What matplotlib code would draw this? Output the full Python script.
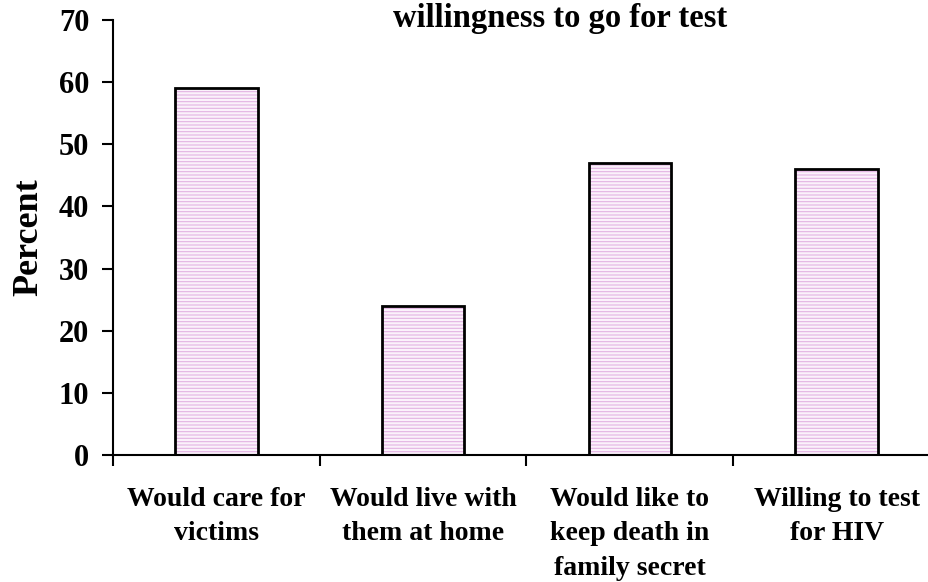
import matplotlib
matplotlib.use("Agg")
import matplotlib.pyplot as plt
import numpy as np

plt.rcParams['font.family'] = ['Liberation Serif', 'DejaVu Serif']
plt.rcParams['font.weight'] = 'bold'
plt.rcParams['hatch.linewidth'] = 0.8

categories = [
    "Would care for\nvictims",
    "Would live with\nthem at home",
    "Would like to\nkeep death in\nfamily secret",
    "Willing to test\nfor HIV",
]
percent = [59, 24, 47, 46]
yticks = [0, 10, 20, 30, 40, 50, 60, 70]
title = "willingness to go for test"

W, H = 929, 582
fig = plt.figure(figsize=(W / 100, H / 100), dpi=100)
left, right, bottom, top = 113, 940, 455, 20
ax = fig.add_axes([left / W, 1 - bottom / H, (right - left) / W, (bottom - top) / H])

x = np.arange(len(categories)) + 0.5
# pink striped fill, then a black outline on top
ax.bar(x, percent, width=0.4, facecolor='#fbf1fb', edgecolor='#e3b3e3',
       linewidth=0, hatch='-' * 5, zorder=2)
ax.bar(x, percent, width=0.4, facecolor='none', edgecolor='black',
       linewidth=2, zorder=3)

ax.set_xlim(0, len(categories))
ax.set_ylim(0, 70)
ax.set_yticks(yticks)
ax.set_yticklabels([str(t) for t in yticks], fontsize=22, fontweight='bold')
ax.set_xticks(np.arange(len(categories) + 1))
ax.set_xticklabels([])
ax.set_xticks(x, minor=True)
ax.set_xticklabels(categories, minor=True, fontsize=20, fontweight='bold',
                   linespacing=1.5)
ax.tick_params(axis='x', which='minor', length=0, pad=23)
ax.tick_params(axis='x', which='major', length=8, width=1.5, direction='out')
ax.tick_params(axis='y', length=8, width=1.5, direction='out', pad=9)

for s in ['top', 'right']:
    ax.spines[s].set_visible(False)
for s in ['left', 'bottom']:
    ax.spines[s].set_linewidth(1.5)

ax.set_ylabel("Percent", fontsize=26, fontweight='bold', labelpad=10)
fig.text(560 / W, 1 - 27 / H, title, fontsize=23.5, fontweight='bold',
         ha='center', va='baseline')

fig.savefig("out.png", dpi=100)
